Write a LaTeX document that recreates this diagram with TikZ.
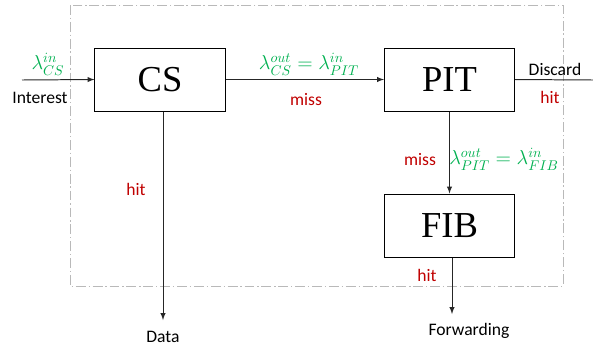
\documentclass[tikz,border=0pt]{standalone}
\usepackage{amsmath}
\usepackage{fontspec}
\setmainfont{Liberation Serif}
\newfontfamily\lblfont{Carlito}
\usepackage{tikz}
\usetikzlibrary{positioning}
\definecolor{hitred}{RGB}{192,0,0}
\definecolor{rategreen}{RGB}{0,176,80}

\begin{document}
\begin{tikzpicture}[x=0.025cm,y=-0.025cm,>=latex]
            \tikzstyle{block}=[draw=black,line width=0.7pt,minimum width=3.25cm,minimum height=1.575cm,inner sep=0pt,font=\fontsize{26}{28}\selectfont]
            \tikzstyle{lbl}=[inner sep=0pt,font=\lblfont\fontsize{12.5}{14}\selectfont]
            \tikzstyle{red lbl}=[lbl,text=hitred]
            \tikzstyle{rate}=[inner sep=0pt,text=rategreen,font=\fontsize{13.6}{16}\selectfont]
            \tikzstyle{flow}=[draw=black!85,line width=0.7pt]
            \useasboundingbox (0,0) rectangle (593,351);
            % outer frame
            \draw [gray!55,line width=0.6pt,dash pattern=on 7pt off 2pt on 1pt off 2pt] (70,5) rectangle (563,286);
            % blocks
            \node [block] (cs) at (160,79.5) {CS};
            \node [block] (pit) at (449.5,79.5) {PIT};
            \node [block] (fib) at (449.5,225.5) {FIB};
            % free ends
            \coordinate (in) at (22,80);
            \coordinate (discard) at (593,80);
            \coordinate (data) at (163,320);
            \coordinate (fwd) at (452,314);
            % connectors
            \draw [flow,->] (in) -- (cs.west);
            \draw [flow,->] (cs.east) -- (pit.west);
            \draw [flow] (pit.east) -- (discard);
            \draw [flow,->] (pit.south) -- (fib.north);
            \draw [flow,->] (cs.south -| data) -- (data);
            \draw [flow,->] (fib.south -| fwd) -- (fwd);
            % labels
            \node [rate] (lin) at (48,64) {$\lambda_{CS}^{in}$};
            \node [lbl] (interest) at (40,98) {Interest};
            \node [rate] (lmid) at (309,64) {$\lambda_{CS}^{out}=\lambda_{PIT}^{in}$};
            \node [red lbl] (miss1) at (306,100) {miss};
            \node [lbl] (disc) at (555,69) {Discard};
            \node [red lbl] (hit1) at (550,97) {hit};
            \node [red lbl] (miss2) at (420,160) {miss};
            \node [rate] (lpit) at (504,159) {$\lambda_{PIT}^{out}=\lambda_{FIB}^{in}$};
            \node [red lbl] (hit2) at (136,189) {hit};
            \node [red lbl] (hit3) at (427,275) {hit};
            \node [lbl] (datal) at (163,337) {Data};
            \node [lbl] (fwdl) at (469,331) {Forwarding};
\end{tikzpicture}
\end{document}
